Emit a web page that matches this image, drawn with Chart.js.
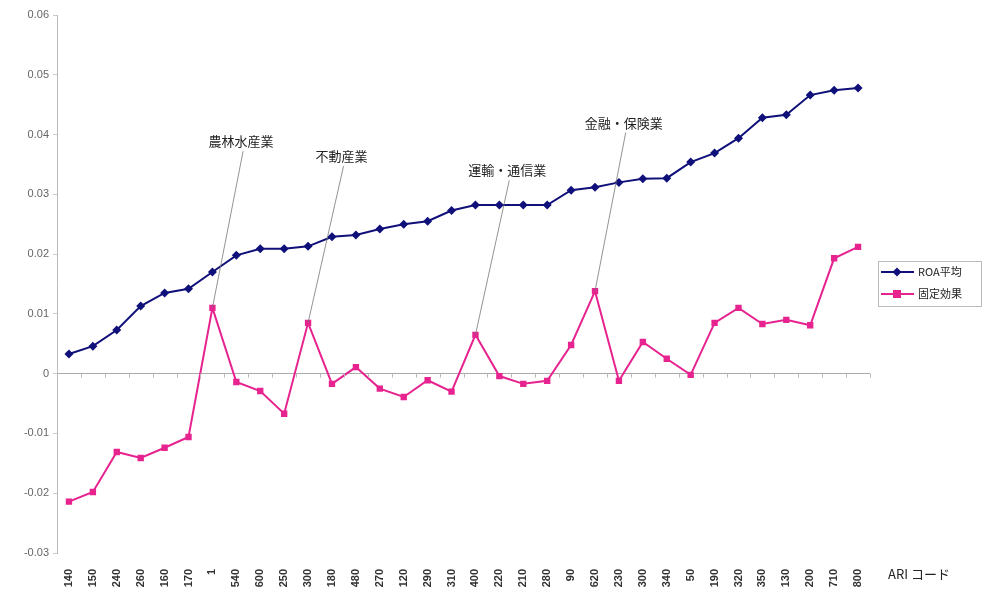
<!DOCTYPE html>
<html>
<head>
<meta charset="utf-8">
<script src="https://cdn.jsdelivr.net/npm/chart.js@4"></script>
<style>
  body { margin: 0; background: #fff; }
  #wrap { width: 982px; height: 591px; position: relative; }
</style>
</head>
<body>
<div id="wrap"><canvas id="myChart"></canvas></div>
<script>
var codes = ['140', '150', '240', '260', '160', '170', '1', '540', '600', '250', '300', '180',
  '480', '270', '120', '290', '310', '400', '220', '210', '280', '90', '620', '230', '300',
  '340', '50', '190', '320', '350', '130', '200', '710', '800'];

var roaMean = [0.0033, 0.0046, 0.0073, 0.0113, 0.0135, 0.0142, 0.0170, 0.0198, 0.0209, 0.0209,
  0.0213, 0.0229, 0.0232, 0.0242, 0.0250, 0.0255, 0.0273, 0.0282, 0.0282, 0.0282, 0.0282,
  0.0307, 0.0312, 0.0320, 0.0326, 0.0327, 0.0354, 0.0369, 0.0394, 0.0428, 0.0433, 0.0466,
  0.0474, 0.0478];

var fixedEffect = [-0.0214, -0.0198, -0.0131, -0.0141, -0.0124, -0.0106, 0.0110, -0.0014,
  -0.0029, -0.0067, 0.0085, -0.0017, 0.0011, -0.0025, -0.0039, -0.0011, -0.0030, 0.0065,
  -0.0004, -0.0017, -0.0012, 0.0048, 0.0138, -0.0012, 0.0053, 0.0025, -0.0002, 0.0085,
  0.0110, 0.0083, 0.0090, 0.0081, 0.0193, 0.0212];

var seriesNames = ['ROA平均', '固定効果'];

// industry callouts: which point of 固定効果, where the label sits (in data units)
var notes = [
  { text: '農林水産業', idx: 6, dx: 1.2, y: 0.0389 },
  { text: '不動産業', idx: 10, dx: 1.4, y: 0.0364 },
  { text: '運輸・通信業', idx: 17, dx: 1.33, y: 0.0340 },
  { text: '金融・保険業', idx: 22, dx: 1.2, y: 0.0420 }
];

var jpFont = '"Noto Sans CJK JP", "Noto Sans", sans-serif';
var blue = '#10107a';
var pink = '#e6238e';

var extras = {
  id: 'extras',
  afterDatasetsDraw: function (chart) {
    var c = chart.ctx, xs = chart.scales.x, ys = chart.scales.y;
    var step = xs.getPixelForValue(1) - xs.getPixelForValue(0);
    c.save();

    // small tick marks on the zero line
    var y0 = ys.getPixelForValue(0);
    c.strokeStyle = '#bbb';
    c.lineWidth = 1;
    for (var k = 0; k <= codes.length; k++) {
      var bx = Math.round(xs.getPixelForValue(k) - step / 2) + 0.5;
      c.beginPath();
      c.moveTo(bx, y0);
      c.lineTo(bx, y0 + 4);
      c.stroke();
    }

    c.font = '13px ' + jpFont;
    c.textAlign = 'center';
    c.textBaseline = 'middle';
    notes.forEach(function (n) {
      var px = xs.getPixelForValue(n.idx), py = ys.getPixelForValue(fixedEffect[n.idx]);
      var tx = px + step * n.dx, ty = ys.getPixelForValue(n.y);
      c.strokeStyle = '#777';
      c.lineWidth = 0.8;
      c.beginPath();
      c.moveTo(tx + 2, ty + 10);
      c.lineTo(px, py);
      c.stroke();
      c.fillStyle = '#222';
      c.fillText(n.text, tx, ty);
    });

    // legend box
    var lx = chart.chartArea.right + 8, ly = 261;
    c.strokeStyle = '#bbb';
    c.lineWidth = 1;
    c.strokeRect(lx + 0.5, ly + 0.5, 103, 45);
    var cols = [blue, pink], styles = ['diamond', 'square'];
    c.font = '11px ' + jpFont;
    for (var i = 0; i < 2; i++) {
      var yy = ly + 11 + i * 22;
      c.strokeStyle = cols[i];
      c.lineWidth = 2;
      c.beginPath();
      c.moveTo(lx + 3, yy);
      c.lineTo(lx + 36, yy);
      c.stroke();
      c.fillStyle = cols[i];
      c.beginPath();
      if (styles[i] === 'diamond') {
        c.moveTo(lx + 19, yy - 4.5); c.lineTo(lx + 23.5, yy); c.lineTo(lx + 19, yy + 4.5); c.lineTo(lx + 14.5, yy);
      } else {
        c.rect(lx + 15, yy - 4, 8, 8);
      }
      c.fill();
      c.fillStyle = '#222';
      c.textAlign = 'left';
      c.fillText(seriesNames[i], lx + 40, yy);
    }

    // axis title
    c.font = '13px ' + jpFont;
    c.textAlign = 'left';
    c.fillText('ARI コード', chart.chartArea.right + 18, 574);
    c.restore();
  }
};

var ctx = document.getElementById('myChart').getContext('2d');
var myChart = new Chart(ctx, {
  type: 'line',
  data: {
    labels: codes,
    datasets: [{
      label: seriesNames[0],
      data: roaMean,
      borderColor: blue,
      backgroundColor: blue,
      borderWidth: 2,
      pointStyle: 'rectRot',
      pointRadius: 4.5,
      pointBorderWidth: 0,
      tension: 0
    }, {
      label: seriesNames[1],
      data: fixedEffect,
      borderColor: pink,
      backgroundColor: pink,
      borderWidth: 2,
      pointStyle: 'rect',
      pointRadius: 4.5,
      pointBorderWidth: 0,
      tension: 0
    }]
  },
  options: {
    responsive: true,
    maintainAspectRatio: false,
    animation: false,
    layout: { padding: { top: 15, right: 112, left: 0, bottom: 0 } },
    plugins: { legend: { display: false }, tooltip: { enabled: false } },
    scales: {
      x: {
        offset: true,
        grid: { display: false },
        border: { display: false },
        ticks: {
          autoSkip: false, maxRotation: 90, minRotation: 90, padding: 8,
          color: '#333', font: { size: 11, family: 'Arial, sans-serif', weight: 'bold' }
        },
        afterFit: function (s) { s.height = 38; }
      },
      y: {
        min: -0.03, max: 0.06,
        ticks: {
          stepSize: 0.01, padding: 4, color: '#666',
          font: { size: 11, family: 'Arial, sans-serif' },
          callback: function (v) { return Math.abs(v) < 1e-9 ? '0' : v.toFixed(2); }
        },
        grid: {
          color: function (c) { return Math.abs(c.tick.value) < 1e-9 ? '#aaa' : 'rgba(0,0,0,0)'; },
          tickColor: '#ccc', tickLength: 4, lineWidth: 1
        },
        border: { color: '#bbb' },
        afterFit: function (s) { s.width = 57; }
      }
    }
  },
  plugins: [extras]
});
</script>
</body>
</html>
